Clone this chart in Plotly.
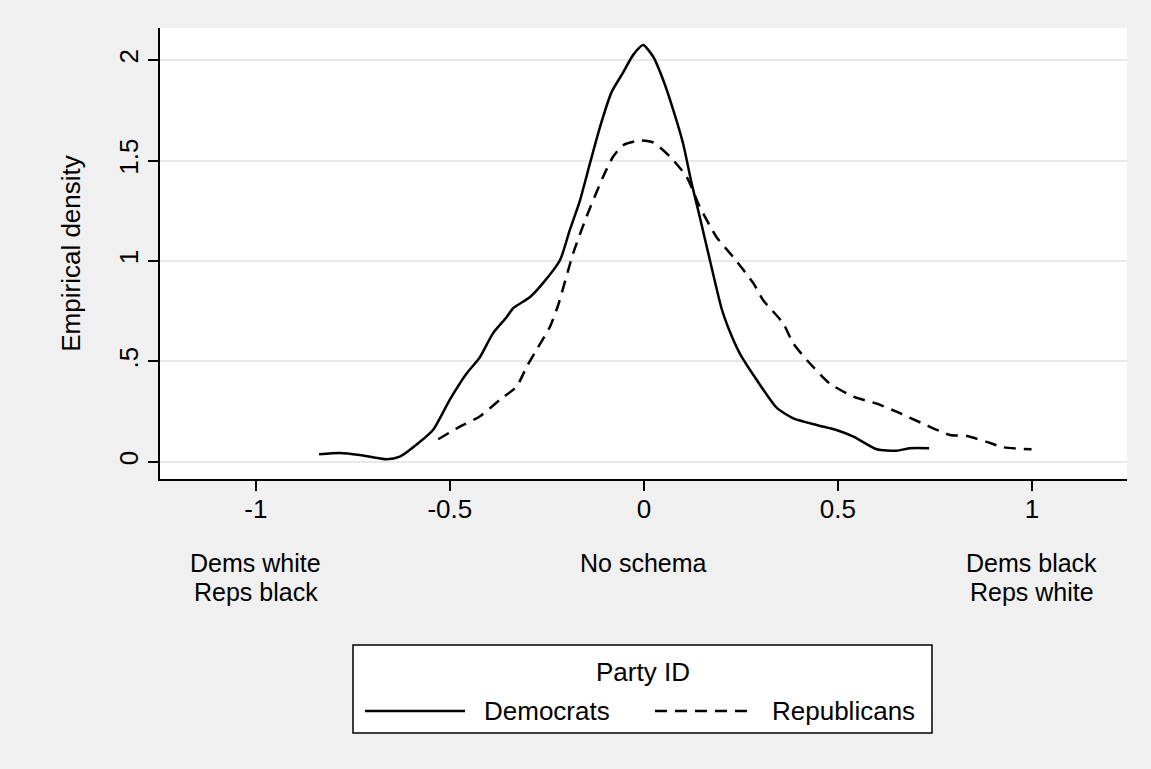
import plotly.graph_objects as go

# ---------------- data ----------------
dem_x = [-0.837, -0.784, -0.732, -0.663, -0.629, -0.577, -0.543, -0.5, -0.457, -0.423,
         -0.389, -0.354, -0.337, -0.294, -0.26, -0.216, -0.191, -0.165, -0.139, -0.113,
         -0.083, -0.053, -0.028, -0.002, 0.024, 0.050, 0.076, 0.101, 0.123, 0.144,
         0.17, 0.20, 0.217, 0.247, 0.29, 0.342, 0.385, 0.445, 0.496, 0.54,
         0.60, 0.651, 0.686, 0.735]
dem_y = [0.038, 0.045, 0.035, 0.013, 0.026, 0.10, 0.16, 0.31, 0.44, 0.52,
         0.64, 0.72, 0.765, 0.82, 0.89, 1.005, 1.154, 1.30, 1.486, 1.668,
         1.842, 1.94, 2.025, 2.075, 2.017, 1.90, 1.75, 1.585, 1.387, 1.22,
         1.005, 0.765, 0.67, 0.54, 0.41, 0.27, 0.217, 0.184, 0.159, 0.126,
         0.063, 0.056, 0.068, 0.068]

rep_x = [-0.53, -0.474, -0.423, -0.371, -0.328, -0.302, -0.277, -0.242, -0.221, -0.182,
         -0.148, -0.105, -0.079, -0.053, -0.01, 0.024, 0.067, 0.11, 0.144, 0.187,
         0.23, 0.282, 0.307, 0.359, 0.385, 0.428, 0.479, 0.54, 0.60, 0.651,
         0.72, 0.789, 0.832, 0.883, 0.926, 0.999]
rep_y = [0.113, 0.176, 0.226, 0.31, 0.375, 0.474, 0.557, 0.673, 0.78, 1.04,
         1.22, 1.42, 1.52, 1.577, 1.60, 1.59, 1.52, 1.42, 1.27, 1.12,
         1.02, 0.89, 0.806, 0.69, 0.59, 0.49, 0.39, 0.325, 0.29, 0.25,
         0.19, 0.134, 0.129, 0.10, 0.073, 0.063]

series_names = ["Democrats", "Republicans"]
legend_title = "Party ID"

x_tick_vals = [-1, -0.5, 0, 0.5, 1]
x_tick_text = ["-1", "-0.5", "0", "0.5", "1"]
y_tick_vals = [0, 0.5, 1, 1.5, 2]
y_tick_text = ["0", ".5", "1", "1.5", "2"]

schema_x = [-1, 0, 1]
schema_lines = [["Dems white", "Reps black"], ["No schema"], ["Dems black", "Reps white"]]

y_title = "Empirical density"

# ---------------- layout helpers ----------------
W, H = 1151, 769
L, R, T, B = 160, 1127, 28, 479          # plot area in pixels
FONT = "Liberation Sans, Arial, sans-serif"
FS = 26
FS_SCHEMA = 25
BG = "#f0f0f0"
LW = 2.5
DASH = "12px,8px"


def px_x(p):
    return (p - L) / (R - L)


def px_y(p):
    return (B - p) / (B - T)


fig = go.Figure()

fig.add_trace(go.Scatter(x=dem_x, y=dem_y, mode="lines", name=series_names[0],
                         line=dict(color="black", width=LW, shape="spline", smoothing=0.6),
                         showlegend=False))
fig.add_trace(go.Scatter(x=rep_x, y=rep_y, mode="lines", name=series_names[1],
                         line=dict(color="black", width=LW, dash=DASH,
                                   shape="spline", smoothing=0.6),
                         showlegend=False))

annotations = []
# schema labels under the x axis
for xv, lines in zip(schema_x, schema_lines):
    for i, txt in enumerate(lines):
        annotations.append(dict(x=xv, xref="x", y=px_y(562.5 + 29.5 * i), yref="paper",
                                text=txt, showarrow=False, xanchor="center", yanchor="middle",
                                borderpad=0,
                                font=dict(family=FONT, size=FS_SCHEMA, color="black")))

# legend (drawn box)
shapes = [
    dict(type="rect", xref="paper", yref="paper",
         x0=px_x(353), x1=px_x(932), y0=px_y(645), y1=px_y(733),
         line=dict(color="black", width=1.5), fillcolor="white", layer="below"),
    dict(type="line", xref="paper", yref="paper",
         x0=px_x(365), x1=px_x(465), y0=px_y(711), y1=px_y(711),
         line=dict(color="black", width=LW)),
    dict(type="line", xref="paper", yref="paper",
         x0=px_x(655), x1=px_x(755), y0=px_y(711), y1=px_y(711),
         line=dict(color="black", width=LW, dash=DASH)),
]
annotations.append(dict(x=px_x(643), y=px_y(672), xref="paper", yref="paper",
                        text=legend_title, showarrow=False, xanchor="center", yanchor="middle",
                        font=dict(family=FONT, size=FS, color="black")))
annotations.append(dict(x=px_x(484), y=px_y(711), xref="paper", yref="paper",
                        text=series_names[0], showarrow=False, xanchor="left", yanchor="middle",
                        xshift=-2, font=dict(family=FONT, size=FS, color="black")))
annotations.append(dict(x=px_x(772), y=px_y(711), xref="paper", yref="paper",
                        text=series_names[1], showarrow=False, xanchor="left", yanchor="middle",
                        xshift=-2, font=dict(family=FONT, size=FS, color="black")))

fig.update_layout(
    width=W, height=H,
    margin=dict(l=L, r=W - R, t=T, b=H - B, pad=0),
    paper_bgcolor=BG, plot_bgcolor="white",
    font=dict(family=FONT, size=FS, color="black"),
    showlegend=False,
    annotations=annotations,
    shapes=shapes,
    xaxis=dict(range=[-1.247, 1.245], tickvals=x_tick_vals, ticktext=x_tick_text,
               showgrid=False, zeroline=False, showline=True, linecolor="black", linewidth=1.5,
               ticks="outside", ticklen=10, tickwidth=1.5, tickcolor="black",
               ticklabelstandoff=-4, fixedrange=True,
               tickfont=dict(family=FONT, size=FS, color="black")),
    yaxis=dict(range=[-0.085, 2.16], tickvals=y_tick_vals, ticktext=y_tick_text,
               showgrid=True, gridcolor="#e8e8e8", gridwidth=2,
               zeroline=False, showline=True, linecolor="black", linewidth=1.5,
               ticks="outside", ticklen=10, tickwidth=1.5, tickcolor="black",
               tickangle=-90, ticklabelstandoff=0, fixedrange=True,
               tickfont=dict(family=FONT, size=FS, color="black"),
               title=dict(text=y_title, standoff=26,
                          font=dict(family=FONT, size=FS, color="black"))),
)

fig.write_html("out.html", config={"displayModeBar": False},
               post_script="document.body.style.margin='0';document.body.style.overflow='hidden';")
